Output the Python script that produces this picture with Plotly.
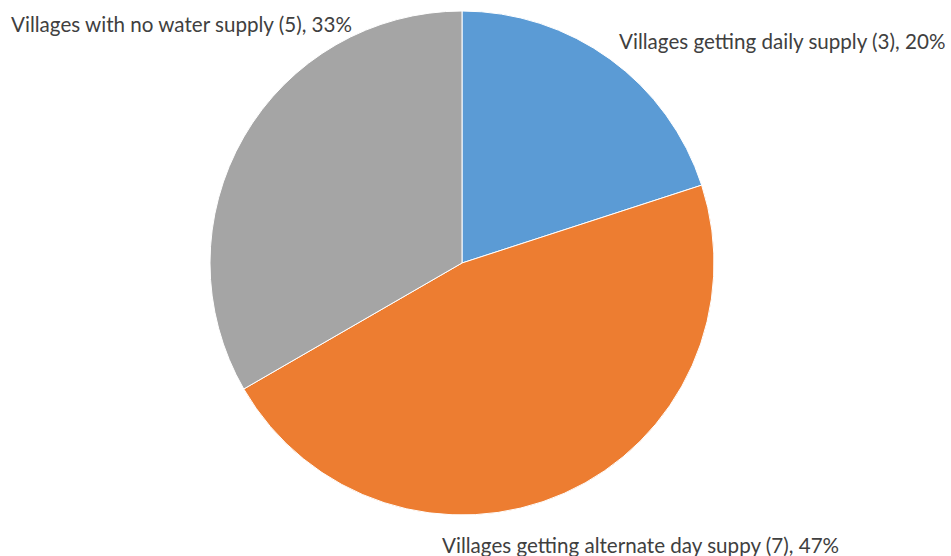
import plotly.graph_objects as go

categories = ["Villages getting daily supply", "Villages getting alternate day suppy", "Villages with no water supply"]
counts = [3, 7, 5]
colors = ["#5B9BD5", "#ED7D31", "#A5A5A5"]

total = sum(counts)
label_texts = [f"{c} ({n}), {round(100*n/total)}%" for c, n in zip(categories, counts)]

W, H = 951, 556
cx, cy, r = 462, 263, 252

fig = go.Figure(go.Pie(
    labels=categories, values=counts, sort=False, direction="clockwise", rotation=0,
    marker=dict(colors=colors, line=dict(color="white", width=1)),
    textinfo="none", hoverinfo="label+value+percent", showlegend=False,
    domain=dict(x=[(cx - r) / W, (cx + r) / W], y=[1 - (cy + r) / H, 1 - (cy - r) / H]),
))

# label positions (pixel) : left x, center y
pos = [(617, 41, "left"), (440, 545, "left"), (9, 24, "left")]
for t, (x, y, a) in zip(label_texts, pos):
    fig.add_annotation(x=x / W, y=1 - y / H, xref="paper", yref="paper", text=t,
                       showarrow=False, xanchor=a, yanchor="middle",
                       font=dict(family="Lato", size=20.6, color="#404040"))

fig.update_layout(width=W, height=H, margin=dict(l=0, r=0, t=0, b=0),
                  paper_bgcolor="white", plot_bgcolor="white")
fig.write_html("out.html")
